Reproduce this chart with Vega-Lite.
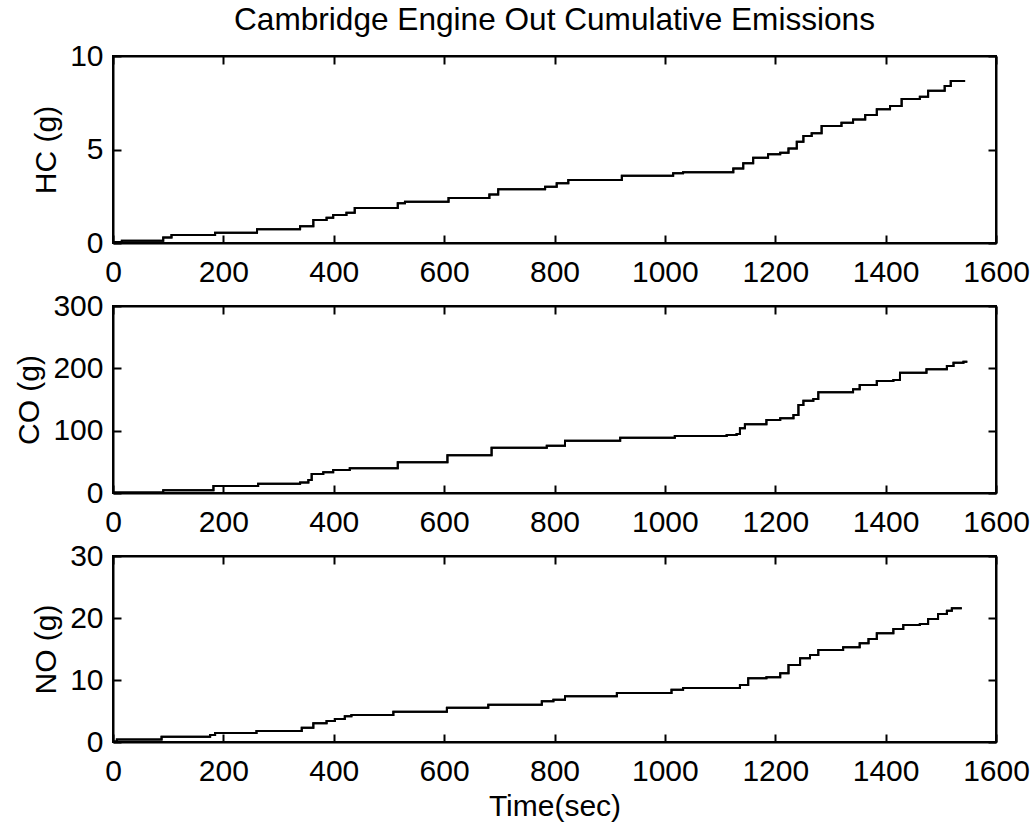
{
  "$schema": "https://vega.github.io/schema/vega-lite/v6.json",
  "background": "white",
  "padding": {"left": 13, "top": 5, "right": 5, "bottom": 5},
  "title": {"text": "Cambridge Engine Out Cumulative Emissions", "fontSize": 31.6, "font": "Liberation Sans", "fontWeight": "normal", "anchor": "middle", "frame": "group", "color": "black", "offset": 3},
  "datasets": {
    "hc": [
      {"t": 0, "v": 0.05}, {"t": 16, "v": 0.12}, {"t": 91, "v": 0.3}, {"t": 106, "v": 0.43}, {"t": 185, "v": 0.55},
      {"t": 261, "v": 0.73}, {"t": 339, "v": 0.9}, {"t": 363, "v": 1.23}, {"t": 387, "v": 1.35}, {"t": 399, "v": 1.5},
      {"t": 423, "v": 1.62}, {"t": 438, "v": 1.87}, {"t": 516, "v": 2.12}, {"t": 529, "v": 2.21}, {"t": 608, "v": 2.41},
      {"t": 682, "v": 2.6}, {"t": 698, "v": 2.87}, {"t": 783, "v": 3.01}, {"t": 804, "v": 3.19}, {"t": 825, "v": 3.37},
      {"t": 922, "v": 3.6}, {"t": 1015, "v": 3.73}, {"t": 1033, "v": 3.78}, {"t": 1124, "v": 3.99}, {"t": 1142, "v": 4.26},
      {"t": 1160, "v": 4.56}, {"t": 1187, "v": 4.74}, {"t": 1209, "v": 4.83}, {"t": 1224, "v": 5.06}, {"t": 1239, "v": 5.42},
      {"t": 1251, "v": 5.72}, {"t": 1266, "v": 5.87}, {"t": 1284, "v": 6.26}, {"t": 1320, "v": 6.43}, {"t": 1341, "v": 6.61},
      {"t": 1363, "v": 6.84}, {"t": 1384, "v": 7.15}, {"t": 1408, "v": 7.33}, {"t": 1429, "v": 7.7}, {"t": 1462, "v": 7.82},
      {"t": 1477, "v": 8.14}, {"t": 1507, "v": 8.4}, {"t": 1518, "v": 8.66}, {"t": 1544, "v": 8.66}
    ],
    "co": [
      {"t": 0, "v": 1}, {"t": 91, "v": 4.3}, {"t": 182, "v": 11.2}, {"t": 263, "v": 15}, {"t": 339, "v": 17},
      {"t": 354, "v": 20.9}, {"t": 360, "v": 30.5}, {"t": 381, "v": 33.2}, {"t": 399, "v": 36.9}, {"t": 429, "v": 39.6},
      {"t": 516, "v": 49.2}, {"t": 606, "v": 60.4}, {"t": 686, "v": 72.7}, {"t": 786, "v": 76}, {"t": 819, "v": 83.9},
      {"t": 919, "v": 88.7}, {"t": 1018, "v": 91.4}, {"t": 1112, "v": 93}, {"t": 1130, "v": 94.6}, {"t": 1136, "v": 103.7},
      {"t": 1145, "v": 110.2}, {"t": 1184, "v": 117.1}, {"t": 1209, "v": 119.8}, {"t": 1233, "v": 125.1}, {"t": 1242, "v": 141.2},
      {"t": 1251, "v": 148.1}, {"t": 1269, "v": 150.8}, {"t": 1278, "v": 161.5}, {"t": 1341, "v": 166.4}, {"t": 1353, "v": 173.3},
      {"t": 1384, "v": 179.7}, {"t": 1414, "v": 181.3}, {"t": 1426, "v": 193}, {"t": 1474, "v": 198.4}, {"t": 1511, "v": 203.7},
      {"t": 1523, "v": 209}, {"t": 1541, "v": 210.7}, {"t": 1548, "v": 210.7}
    ],
    "no": [
      {"t": 0, "v": 0.1}, {"t": 7, "v": 0.4}, {"t": 88, "v": 0.86}, {"t": 176, "v": 1.13}, {"t": 185, "v": 1.45},
      {"t": 260, "v": 1.77}, {"t": 342, "v": 2.31}, {"t": 363, "v": 3.01}, {"t": 387, "v": 3.39}, {"t": 402, "v": 3.71},
      {"t": 420, "v": 4.14}, {"t": 432, "v": 4.35}, {"t": 508, "v": 4.89}, {"t": 605, "v": 5.54}, {"t": 680, "v": 6.02},
      {"t": 777, "v": 6.56}, {"t": 798, "v": 6.83}, {"t": 819, "v": 7.37}, {"t": 913, "v": 7.9}, {"t": 1012, "v": 8.44},
      {"t": 1033, "v": 8.71}, {"t": 1136, "v": 9.19}, {"t": 1151, "v": 10.27}, {"t": 1184, "v": 10.43}, {"t": 1209, "v": 11.08},
      {"t": 1224, "v": 12.42}, {"t": 1245, "v": 13.5}, {"t": 1263, "v": 14.03}, {"t": 1278, "v": 14.84}, {"t": 1323, "v": 15.27},
      {"t": 1353, "v": 15.92}, {"t": 1369, "v": 16.61}, {"t": 1384, "v": 17.53}, {"t": 1414, "v": 18.23}, {"t": 1432, "v": 18.87},
      {"t": 1462, "v": 19.03}, {"t": 1477, "v": 19.84}, {"t": 1495, "v": 20.65}, {"t": 1511, "v": 21.18}, {"t": 1520, "v": 21.56},
      {"t": 1538, "v": 21.56}
    ]
  },
  "spacing": 63,
  "bounds": "flush",
  "vconcat": [
    {
      "width": 883, "height": 187,
      "data": {"name": "hc"},
      "layer": [
        {"mark": {"type": "line", "interpolate": "step-after", "color": "black", "strokeWidth": 2},
         "encoding": {
           "x": {"field": "t", "type": "quantitative", "scale": {"domain": [0, 1600], "nice": false}, "axis": {"orient": "bottom", "values": [0, 200, 400, 600, 800, 1000, 1200, 1400, 1600], "format": "d", "title": null}},
           "y": {"field": "v", "type": "quantitative", "scale": {"domain": [0, 10], "nice": false}, "axis": {"orient": "left", "values": [0, 5, 10], "format": "d", "title": "HC (g)"}}
         }},
        {"mark": {"type": "line", "interpolate": "step-after", "color": "black", "strokeWidth": 2},
         "encoding": {
           "x": {"field": "t", "type": "quantitative", "axis": {"orient": "top", "values": [0, 200, 400, 600, 800, 1000, 1200, 1400, 1600], "labels": false, "title": null}},
           "y": {"field": "v", "type": "quantitative", "axis": {"orient": "right", "values": [0, 5, 10], "labels": false, "title": null}}
         }}
      ],
      "resolve": {"axis": {"x": "independent", "y": "independent"}}
    },
    {
      "width": 883, "height": 187,
      "data": {"name": "co"},
      "layer": [
        {"mark": {"type": "line", "interpolate": "step-after", "color": "black", "strokeWidth": 2},
         "encoding": {
           "x": {"field": "t", "type": "quantitative", "scale": {"domain": [0, 1600], "nice": false}, "axis": {"orient": "bottom", "values": [0, 200, 400, 600, 800, 1000, 1200, 1400, 1600], "format": "d", "title": null}},
           "y": {"field": "v", "type": "quantitative", "scale": {"domain": [0, 300], "nice": false}, "axis": {"orient": "left", "values": [0, 100, 200, 300], "format": "d", "title": "CO (g)"}}
         }},
        {"mark": {"type": "line", "interpolate": "step-after", "color": "black", "strokeWidth": 2},
         "encoding": {
           "x": {"field": "t", "type": "quantitative", "axis": {"orient": "top", "values": [0, 200, 400, 600, 800, 1000, 1200, 1400, 1600], "labels": false, "title": null}},
           "y": {"field": "v", "type": "quantitative", "axis": {"orient": "right", "values": [0, 100, 200, 300], "labels": false, "title": null}}
         }}
      ],
      "resolve": {"axis": {"x": "independent", "y": "independent"}}
    },
    {
      "width": 883, "height": 186,
      "data": {"name": "no"},
      "layer": [
        {"mark": {"type": "line", "interpolate": "step-after", "color": "black", "strokeWidth": 2},
         "encoding": {
           "x": {"field": "t", "type": "quantitative", "scale": {"domain": [0, 1600], "nice": false}, "axis": {"orient": "bottom", "values": [0, 200, 400, 600, 800, 1000, 1200, 1400, 1600], "format": "d", "title": "Time(sec)", "titlePadding": 5}},
           "y": {"field": "v", "type": "quantitative", "scale": {"domain": [0, 30], "nice": false}, "axis": {"orient": "left", "values": [0, 10, 20, 30], "format": "d", "title": "NO (g)"}}
         }},
        {"mark": {"type": "line", "interpolate": "step-after", "color": "black", "strokeWidth": 2},
         "encoding": {
           "x": {"field": "t", "type": "quantitative", "axis": {"orient": "top", "values": [0, 200, 400, 600, 800, 1000, 1200, 1400, 1600], "labels": false, "title": null}},
           "y": {"field": "v", "type": "quantitative", "axis": {"orient": "right", "values": [0, 10, 20, 30], "labels": false, "title": null}}
         }}
      ],
      "resolve": {"axis": {"x": "independent", "y": "independent"}}
    }
  ],
  "config": {
    "font": "Liberation Sans",
    "view": {"stroke": "black", "strokeWidth": 2},
    "axis": {
      "grid": false, "domainColor": "black", "domainWidth": 2, "tickColor": "black", "tickWidth": 2, "tickSize": -8,
      "labelFont": "Liberation Sans", "labelFontSize": 30, "labelColor": "black", "labelFlush": false, "labelOverlap": false,
      "titleFont": "Liberation Sans", "titleFontSize": 30, "titleFontWeight": "normal", "titleColor": "black", "titlePadding": 8
    },
    "axisX": {"labelPadding": 22},
    "axisY": {"labelPadding": 18}
  }
}
